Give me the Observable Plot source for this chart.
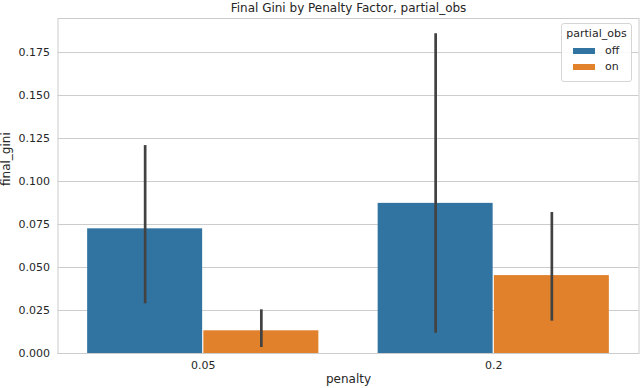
<!DOCTYPE html>
<html><head><meta charset="utf-8">
<script src="https://cdn.jsdelivr.net/npm/d3@7"></script>
<script src="https://cdn.jsdelivr.net/npm/@observablehq/plot@0.6"></script>
<style>
body{margin:0;background:#fff;}
#wrap{position:relative;width:640px;height:388px;font-family:"DejaVu Sans",sans-serif;color:#262626;}
.legend{position:absolute;left:561px;top:23px;width:71px;height:59px;box-sizing:border-box;border:1px solid #d6d6d6;border-radius:3px;background:rgba(255,255,255,0.85);font-size:11px;}
.legend .t{position:absolute;left:0;right:0;top:3px;text-align:center;line-height:14px;}
.legend .sw{position:absolute;left:11px;width:22px;height:6px;}
.legend .lb{position:absolute;left:43px;line-height:14px;}
</style></head><body><div id="wrap"></div>
<script>
const title = "Final Gini by Penalty Factor, partial_obs";
const penalties = ["0.05", "0.2"];
const hues = ["off", "on"];
const hueColors = ["#3274a1", "#e1812c"];
const offMean = [0.0725, 0.0873];
const offLow = [0.0289, 0.0118];
const offHigh = [0.1209, 0.1860];
const onMean = [0.0132, 0.0453];
const onLow = [0.0035, 0.0188];
const onHigh = [0.0254, 0.0820];
const yTicks = [0, 0.025, 0.05, 0.075, 0.1, 0.125, 0.15, 0.175];

const rows = [];
penalties.forEach((p, i) => {
  rows.push({i, hue: "off", j: 0, mean: offMean[i], lo: offLow[i], hi: offHigh[i]});
  rows.push({i, hue: "on", j: 1, mean: onMean[i], lo: onLow[i], hi: onHigh[i]});
});
rows.forEach(r => { r.x1 = r.i - 0.4 + 0.4 * r.j; r.x2 = r.x1 + 0.4; r.xm = r.x1 + 0.2; });

const chart = Plot.plot({
  width: 640, height: 388,
  marginLeft: 57.5, marginRight: 1.5, marginTop: 18, marginBottom: 35,
  style: {fontFamily: "DejaVu Sans, sans-serif", fontSize: "11px", color: "#262626", background: "white"},
  x: {type: "linear", domain: [-0.5, 1.5]},
  y: {domain: [0, 0.1948]},
  color: {domain: hues, range: hueColors},
  marks: [
    Plot.gridY(yTicks, {stroke: "#cccccc", strokeOpacity: 1, strokeWidth: 1}),
    Plot.rect(rows, {x1: "x1", x2: "x2", y1: 0, y2: "mean", fill: "hue", insetLeft: 0.6, insetRight: 0.6}),
    Plot.ruleX(rows, {x: "xm", y1: "lo", y2: "hi", stroke: "#424242", strokeWidth: 2.7}),
    Plot.frame({stroke: "#cccccc", strokeWidth: 1}),
    Plot.axisX([0, 1], {tickSize: 0, tickPadding: 8, tickFormat: i => penalties[i], label: null, fontSize: 11}),
    Plot.axisY(yTicks, {tickSize: 0, tickPadding: 8, tickFormat: d3.format(".3f"), label: null, fontSize: 11}),
    Plot.text([title], {frameAnchor: "top", lineAnchor: "middle", dy: -10.5, fontSize: 12, fill: "#262626"}),
    Plot.text(["final_gini"], {frameAnchor: "left", lineAnchor: "middle", dx: -52, rotate: -90, fontSize: 12, fill: "#262626"}),
    Plot.text(["penalty"], {frameAnchor: "bottom", lineAnchor: "middle", dy: 26, fontSize: 12, fill: "#262626"})
  ]
});
const wrap = document.getElementById("wrap");
wrap.appendChild(chart);

const legend = document.createElement("div");
legend.className = "legend";
const lt = document.createElement("div");
lt.className = "t"; lt.textContent = "partial_obs";
legend.appendChild(lt);
hues.forEach((h, k) => {
  const sw = document.createElement("div");
  sw.className = "sw";
  sw.style.top = (24 + k * 16) + "px";
  sw.style.background = chart.scale("color").apply(h);
  legend.appendChild(sw);
  const lb = document.createElement("div");
  lb.className = "lb";
  lb.style.top = (20 + k * 16) + "px";
  lb.textContent = h;
  legend.appendChild(lb);
});
wrap.appendChild(legend);
</script></body></html>
